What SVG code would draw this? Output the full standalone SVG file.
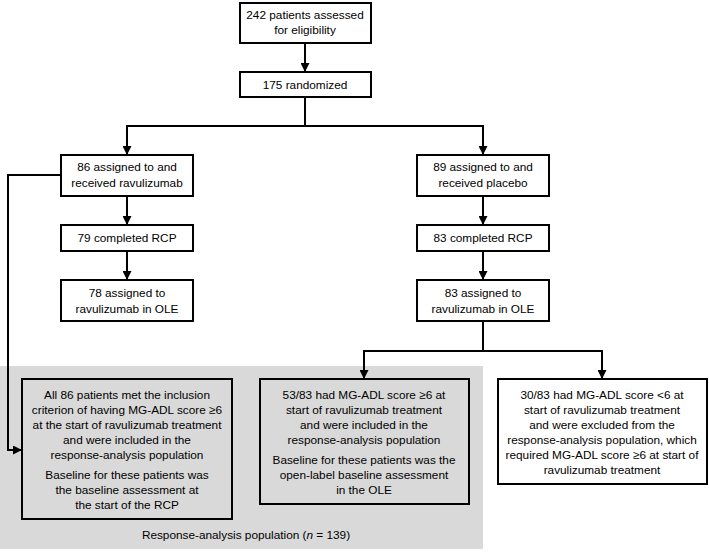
<svg xmlns="http://www.w3.org/2000/svg" width="709" height="552" viewBox="0 0 709 552">
<defs>
<marker id="ah" viewBox="0 0 10 10" refX="10" refY="5" markerWidth="9" markerHeight="9" markerUnits="userSpaceOnUse" orient="auto">
<path d="M0,0 L10,5 L0,10 z" fill="#000"/>
</marker>
<style>
.box{fill:#fff;stroke:#000;stroke-width:2}
.gbox{fill:#d9d9d9;stroke:#000;stroke-width:2}
.c{fill:none;stroke:#000;stroke-width:2}
text{font-family:"Liberation Sans",Arial,sans-serif;font-size:11.8px;fill:#000;text-anchor:middle}
</style>
</defs>
<rect x="0" y="366" width="483" height="183" fill="#d9d9d9"/>
<g id="connectors">
<line class="c" x1="305" y1="43" x2="305" y2="72" marker-end="url(#ah)"/>
<polyline class="c" points="305,97 305,126"/>
<polyline class="c" points="127,155 127,126 483,126 483,155" marker-end="url(#ah)"/>
<line class="c" x1="127" y1="126" x2="127" y2="155" marker-end="url(#ah)"/>
<line class="c" x1="127" y1="196" x2="127" y2="225" marker-end="url(#ah)"/>
<line class="c" x1="127" y1="251" x2="127" y2="280" marker-end="url(#ah)"/>
<line class="c" x1="483" y1="196" x2="483" y2="225" marker-end="url(#ah)"/>
<line class="c" x1="483" y1="251" x2="483" y2="280" marker-end="url(#ah)"/>
<polyline class="c" points="61,175 8,175 8,450 22,450" marker-end="url(#ah)"/>
<polyline class="c" points="483,321 483,351"/>
<polyline class="c" points="364,379 364,351 602,351 602,379" marker-end="url(#ah)"/>
<line class="c" x1="364" y1="351" x2="364" y2="379" marker-end="url(#ah)"/>
</g>
<g id="n242"><rect class="box" x="240" y="3" width="131" height="40"/><text x="305" y="19">242 patients assessed</text><text x="305" y="34">for eligibility</text></g>
<g id="n175"><rect class="box" x="240" y="72" width="131" height="25"/><text x="305" y="89">175 randomized</text></g>
<g id="n86"><rect class="box" x="61" y="155" width="132" height="41"/><text x="127" y="171">86 assigned to and</text><text x="127" y="187">received ravulizumab</text></g>
<g id="n79"><rect class="box" x="61" y="225" width="132" height="26"/><text x="127" y="242">79 completed RCP</text></g>
<g id="n78"><rect class="box" x="61" y="280" width="132" height="41"/><text x="127" y="297">78 assigned to</text><text x="127" y="313">ravulizumab in OLE</text></g>
<g id="n89"><rect class="box" x="417" y="155" width="132" height="41"/><text x="483" y="171">89 assigned to and</text><text x="483" y="187">received placebo</text></g>
<g id="n83c"><rect class="box" x="417" y="225" width="132" height="26"/><text x="483" y="242">83 completed RCP</text></g>
<g id="n83a"><rect class="box" x="417" y="280" width="132" height="41"/><text x="483" y="297">83 assigned to</text><text x="483" y="313">ravulizumab in OLE</text></g>
<g id="nAll86"><rect class="gbox" x="22" y="379" width="210" height="140"/>
<text x="127" y="399">All 86 patients met the inclusion</text>
<text x="127" y="414">criterion of having MG-ADL score ≥6</text>
<text x="127" y="429">at the start of ravulizumab treatment</text>
<text x="127" y="444">and were included in the</text>
<text x="127" y="459">response-analysis population</text>
<text x="127" y="479">Baseline for these patients was</text>
<text x="127" y="494">the baseline assessment at</text>
<text x="127" y="509">the start of the RCP</text></g>
<g id="n53"><rect class="gbox" x="260" y="379" width="209" height="125"/>
<text x="364" y="399">53/83 had MG-ADL score ≥6 at</text>
<text x="364" y="414">start of ravulizumab treatment</text>
<text x="364" y="429">and were included in the</text>
<text x="364" y="444">response-analysis population</text>
<text x="364" y="464">Baseline for these patients was the</text>
<text x="364" y="479">open-label baseline assessment</text>
<text x="364" y="494">in the OLE</text></g>
<g id="n30"><rect class="box" x="498" y="379" width="209" height="105"/>
<text x="602" y="399">30/83 had MG-ADL score &lt;6 at</text>
<text x="602" y="414">start of ravulizumab treatment</text>
<text x="602" y="429">and were excluded from the</text>
<text x="602" y="444">response-analysis population, which</text>
<text x="602" y="459">required MG-ADL score ≥6 at start of</text>
<text x="602" y="474">ravulizumab treatment</text></g>
<g id="popLabel"><text x="246" y="539">Response-analysis population (<tspan font-style="italic">n</tspan> = 139)</text></g>
</svg>
